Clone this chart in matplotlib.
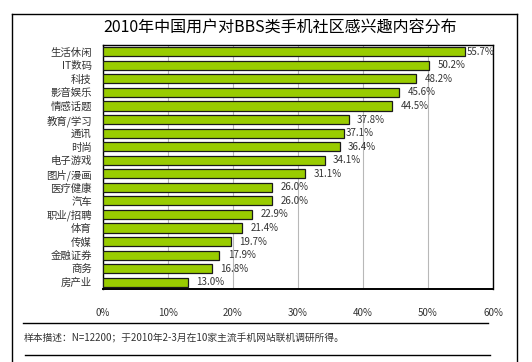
import matplotlib
matplotlib.use("Agg")
import matplotlib.pyplot as plt
from matplotlib.lines import Line2D
from matplotlib.patches import Rectangle

plt.rcParams['font.family'] = ['Noto Sans CJK SC', 'DejaVu Sans']

categories = ["生活休闲", "IT数码", "科技", "影音娱乐", "情感话题", "教育/学习", "通讯", "时尚",
              "电子游戏", "图片/漫画", "医疗健康", "汽车", "职业/招聘", "体育", "传媒", "金融证券",
              "商务", "房产业"]
values = [55.7, 50.2, 48.2, 45.6, 44.5, 37.8, 37.1, 36.4, 34.1, 31.1, 26.0, 26.0, 22.9, 21.4,
          19.7, 17.9, 16.8, 13.0]
xticks = [0, 10, 20, 30, 40, 50, 60]
title = "2010年中国用户对BBS类手机社区感兴趣内容分布"
note = "样本描述：N=12200；于2010年2-3月在10家主流手机网站联机调研所得。"

W, H = 532, 362
fig = plt.figure(figsize=(W / 100, H / 100), dpi=100)
fig.patch.set_facecolor("white")

# outer frame (open at the bottom) and separator lines
for xs, ys in [([12, 12], [362, 14]), ([12, 517], [14, 14]), ([517, 517], [14, 362]),
               ([23, 488], [323, 323]), ([25, 490], [355, 355])]:
    fig.add_artist(Line2D([x / W for x in xs], [1 - y / H for y in ys], color="black", lw=1.0))

ax = fig.add_axes([103 / W, 1 - 289 / H, 390 / W, 244 / H])
y = list(range(len(categories)))
ax.barh(y, values, height=0.68, color="#99CC00", edgecolor="#1a1a1a", linewidth=0.9, zorder=3)
ax.set_xlim(0, 60)
ax.set_ylim(len(categories) - 0.5, -0.5)
ax.set_xticks(xticks)
ax.set_xticklabels([f"{t}%" for t in xticks], fontsize=7, color="#333333")
ax.set_yticks(y)
ax.set_yticklabels(categories, fontsize=7.5, color="#333333")
ax.tick_params(length=0)
ax.tick_params(axis="x", pad=14)
ax.tick_params(axis="y", pad=8)
ax.grid(axis="x", color="#b8b8b8", lw=0.8, zorder=0)
for s in ax.spines.values():
    s.set_color("black")
    s.set_linewidth(1.0)
ax.spines["bottom"].set_linewidth(1.4)

offsets = [1, 6, 6, 6, 6, 6, 1, 6, 6, 6, 6, 6, 6, 6, 6, 6, 6, 6]
for i, v in enumerate(values):
    ax.annotate(f"{v:.1f}%", (v, i), xytext=(offsets[i], 0), textcoords="offset points",
                va="center", ha="left", fontsize=7, color="#333333", zorder=4,
                annotation_clip=False)

fig.text(280 / W, 1 - 28 / H, title, ha="center", va="center", fontsize=11.5, color="black")
fig.text(24 / W, 1 - 338 / H, note, ha="left", va="center", fontsize=7, color="#333333")

fig.savefig("out.png", dpi=100)
